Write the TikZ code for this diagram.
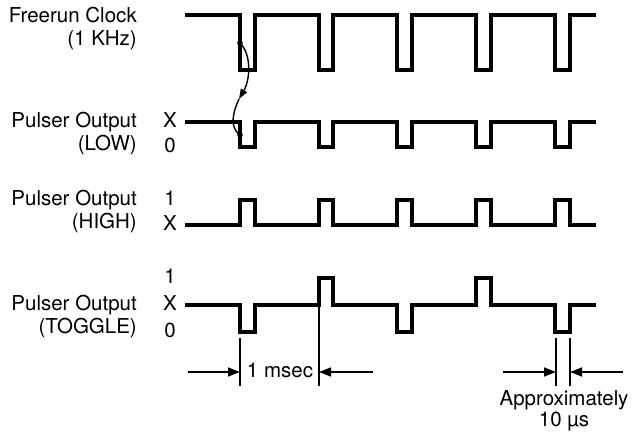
\documentclass[tikz,border=0pt]{standalone}
\usepackage{fontspec}
\setmainfont{TeX Gyre Heros}
\usetikzlibrary{arrows.meta,positioning}

\begin{document}
\begin{tikzpicture}[
  x=1pt,y=-1pt,
  lbl/.style={font=\fontsize{20.5}{24}\selectfont,inner sep=0pt,text height=15pt,text depth=4.5pt},
  sig/.style={lbl,anchor=east},
  wave/.style={line width=3.2pt,line join=miter},
  dim/.style={line width=1.5pt},
  dimarrow/.style={dim,-{Triangle[length=12pt,width=9pt]}},
  curve/.style={line width=1.4pt},
]
  \useasboundingbox (0,0) rectangle (634,435);

  % signal names
  \node[sig] (clk) at (137,17) {Freerun Clock};
  \node[lbl,below=3.5pt of clk.south east,anchor=north east] (clkf) {(1 KHz)};
  \node[sig] (low) at (137,122) {Pulser Output};
  \node[lbl,below=3.5pt of low.south east,anchor=north east] (lowm) {(LOW)};
  \node[sig] (high) at (137,200) {Pulser Output};
  \node[lbl,below=3.5pt of high.south east,anchor=north east] (highm) {(HIGH)};
  \node[sig] (tog) at (137,305) {Pulser Output};
  \node[lbl,below=3.5pt of tog.south east,anchor=north east] (togm) {(TOGGLE)};

  % levels
  \node[lbl] (lowx) at (170,122) {X};
  \node[lbl] (lowz) at (170,147) {0};
  \node[lbl] (highone) at (170,200) {1};
  \node[lbl] (highx) at (170,225) {X};
  \node[lbl] (togone) at (170,278) {1};
  \node[lbl] (togx) at (170,305) {X};
  \node[lbl] (togz) at (170,332) {0};

  % waveforms
  \draw[wave] (185,15) -- (240,15) -- (240,70) -- (255,70) -- (255,15) -- (319,15) -- (319,70) -- (333,70) -- (333,15)
    -- (397,15) -- (397,70) -- (412,70) -- (412,15) -- (476,15) -- (476,70) -- (491,70) -- (491,15)
    -- (555,15) -- (555,70) -- (570,70) -- (570,15) -- (596,15);
  \draw[wave] (185,122) -- (240,122) -- (240,147) -- (255,147) -- (255,122) -- (319,122) -- (319,147) -- (333,147) -- (333,122)
    -- (397,122) -- (397,147) -- (412,147) -- (412,122) -- (476,122) -- (476,147) -- (491,147) -- (491,122)
    -- (555,122) -- (555,147) -- (570,147) -- (570,122) -- (596,122);
  \draw[wave] (185,225) -- (240,225) -- (240,200) -- (255,200) -- (255,225) -- (319,225) -- (319,200) -- (333,200) -- (333,225)
    -- (397,225) -- (397,200) -- (412,200) -- (412,225) -- (476,225) -- (476,200) -- (491,200) -- (491,225)
    -- (555,225) -- (555,200) -- (570,200) -- (570,225) -- (596,225);
  \draw[wave] (185,305) -- (240,305) -- (240,332) -- (255,332) -- (255,305) -- (319,305) -- (319,278) -- (333,278) -- (333,305)
    -- (397,305) -- (397,332) -- (412,332) -- (412,305) -- (476,305) -- (476,278) -- (491,278) -- (491,305)
    -- (555,305) -- (555,332) -- (570,332) -- (570,305) -- (596,305);

  % trigger
  \coordinate (clkdot) at (240,43);
  \coordinate (lowdot) at (240,135);
  \coordinate (trigmid) at (239,99);
  \fill (clkdot) circle[radius=2.8pt];
  \fill (lowdot) circle[radius=2.8pt];
  \draw[curve,-{Triangle[length=10pt,width=7pt]}] (clkdot) .. controls (252,55) and (250,80) .. (trigmid);
  \draw[curve] (trigmid) .. controls (233,112) and (229,127) .. (lowdot);

  % 1 msec
  \coordinate (t1a) at (240,338);
  \coordinate (t1b) at (240,386);
  \coordinate (t2a) at (319,305);
  \coordinate (t2b) at (319,386);
  \draw[dim] (t1a) -- (t1b);
  \draw[dim] (t2a) -- (t2b);
  \coordinate (m1) at (188,372);
  \coordinate (m2) at (373,372);
  \draw[dimarrow] (m1) -- (m1 -| t1a);
  \draw[dimarrow] (m2) -- (m2 -| t2a);
  \node[lbl] (msec) at (280,372) {1 msec};

  % 10 us
  \coordinate (t3a) at (556,338);
  \coordinate (t3b) at (556,386);
  \coordinate (t4a) at (570,338);
  \coordinate (t4b) at (570,386);
  \draw[dim] (t3a) -- (t3b);
  \draw[dim] (t4a) -- (t4b);
  \coordinate (u1) at (503,372);
  \coordinate (u2) at (623,372);
  \draw[dimarrow] (u1) -- (u1 -| t3a);
  \draw[dimarrow] (u2) -- (u2 -| t4a);
  \node[lbl] (approx) at (564,400) {Approximately};
  \node[lbl,below=1pt of approx] (tenus) {10 µs};
\end{tikzpicture}
\end{document}
